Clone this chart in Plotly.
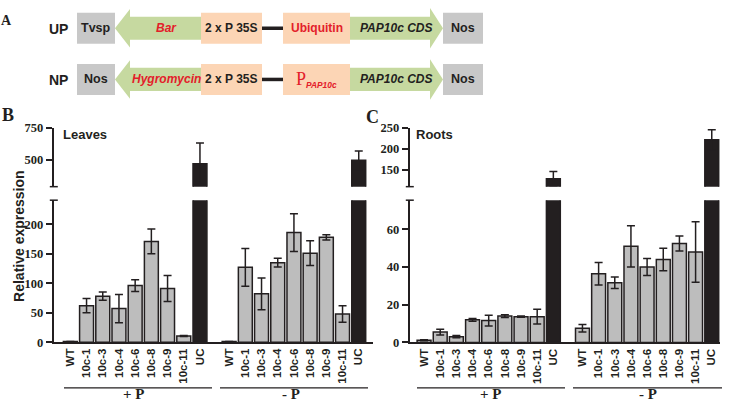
import plotly.graph_objects as go

# ---------------- data ----------------
lines = ["WT", "10c-1", "10c-3", "10c-4", "10c-6", "10c-8", "10c-9", "10c-11", "UC"]
conditions = ["+ P", "- P"]

leaves_plus = [1, 62, 78, 57, 96, 171, 91, 10.5, 472]
leaves_plus_err = [0.3, 12, 7, 24, 10, 21, 22, 1, 160]
leaves_minus = [1, 127, 82, 135, 186, 151, 178, 48, 498]
leaves_minus_err = [0.3, 32, 27, 7.5, 32, 21, 4.5, 14, 73]

roots_plus = [1.2, 5.5, 3.1, 12, 11.6, 14, 13.7, 13.7, 128]
roots_plus_err = [0.3, 1.5, 0.6, 0.7, 2.8, 0.7, 0.3, 3.9, 17]
roots_minus = [7.5, 36.5, 31.7, 51, 40, 44, 52.5, 48, 221]
roots_minus_err = [2, 6, 3, 11, 4.5, 6, 4, 16, 24]

leaves_ticks_low = [0, 50, 100, 150, 200]
leaves_ticks_high = [500, 750]
roots_ticks_low = [0, 20, 40, 60]
roots_ticks_high = [150, 200, 250]

# ---------------- style ----------------
W, H = 729, 411
INK = "#231f20"
BARGRAY = "#bdbdbd"
BOXGRAY = "#c8c8c8"
GREEN = "#c6d9a0"
PEACH = "#fcd5b5"
RED = "#e3202a"
SANS = "Liberation Sans"
SERIF = "Liberation Serif"


def X(p):
    return p / W


def Y(p):
    return 1 - p / H


GROUP_OFFSET = 9.8
pos = [i for i in range(len(lines))] + [i + GROUP_OFFSET for i in range(len(lines))]
names = lines + lines

fig = go.Figure()


def add_panel(xa, ylo, yhi, vp, ep, vm, em):
    vals = vp + vm
    errs = ep + em
    gray = [i for i, n in enumerate(names) if n != "UC"]
    uc = [i for i, n in enumerate(names) if n == "UC"]
    common = dict(width=0.86, xaxis=xa, showlegend=False, hoverinfo="skip")
    fig.add_trace(go.Bar(
        x=[pos[i] for i in gray], y=[vals[i] for i in gray], yaxis=ylo,
        marker=dict(color=BARGRAY, line=dict(color=INK, width=1.5)),
        error_y=dict(type="data", array=[errs[i] for i in gray], color=INK, thickness=1.5, width=4),
        **common))
    fig.add_trace(go.Bar(
        x=[pos[i] for i in uc], y=[vals[i] for i in uc], yaxis=ylo,
        marker=dict(color=INK, line=dict(color=INK, width=1.5)), **common))
    fig.add_trace(go.Bar(
        x=[pos[i] for i in uc], y=[vals[i] for i in uc], yaxis=yhi,
        marker=dict(color=INK, line=dict(color=INK, width=1.5)),
        error_y=dict(type="data", array=[errs[i] for i in uc], color=INK, thickness=1.5, width=4),
        **common))


add_panel("x", "y", "y2", leaves_plus, leaves_plus_err, leaves_minus, leaves_minus_err)
add_panel("x2", "y3", "y4", roots_plus, roots_plus_err, roots_minus, roots_minus_err)

xcommon = dict(showline=True, linecolor=INK, linewidth=1.5, ticks="", showgrid=False,
               zeroline=False, tickmode="array", tickvals=pos, ticktext=names, tickangle=-90,
               tickfont=dict(family=SANS, size=11.5, color=INK, weight="bold"))
ycommon = dict(showline=True, linecolor=INK, linewidth=1.5, ticks="outside", ticklen=6,
               tickwidth=1.5, tickcolor=INK, showgrid=False, zeroline=False, tickmode="array",
               tickfont=dict(family=SERIF, size=12.5, color=INK, weight="bold"))

fig.update_layout(
    width=W, height=H, margin=dict(l=0, r=0, t=0, b=0),
    paper_bgcolor="white", plot_bgcolor="rgba(0,0,0,0)", barmode="overlay",
    xaxis=dict(domain=[X(53.5), X(373)], range=[-1.04, 18.68], anchor="y", **xcommon),
    yaxis=dict(domain=[Y(347), Y(200)], range=[0, 241], anchor="x", tickvals=leaves_ticks_low, **ycommon),
    yaxis2=dict(domain=[Y(186), Y(125)], range=[295, 750], anchor="x", tickvals=leaves_ticks_high, **ycommon),
    xaxis2=dict(domain=[X(409.5), X(720)], range=[-0.9, 18.31], anchor="y3", **xcommon),
    yaxis3=dict(domain=[Y(347.3), Y(200)], range=[0, 75.5], anchor="x2", tickvals=roots_ticks_low, **ycommon),
    yaxis4=dict(domain=[Y(186), Y(125)], range=[109, 250], anchor="x2", tickvals=roots_ticks_high, **ycommon),
)

shapes = []
annots = []


def line(x0, y0, x1, y1, w=1.5, color=INK):
    shapes.append(dict(type="line", xref="paper", yref="paper", x0=X(x0), y0=Y(y0),
                       x1=X(x1), y1=Y(y1), line=dict(color=color, width=w)))


def rect(x0, y0, x1, y1, color):
    shapes.append(dict(type="rect", xref="paper", yref="paper", x0=X(x0), y0=Y(y0),
                       x1=X(x1), y1=Y(y1), fillcolor=color, line=dict(width=0), layer="below"))


def poly(pts, color):
    d = "M " + " L ".join(f"{X(a):.5f},{Y(b):.5f}" for a, b in pts) + " Z"
    shapes.append(dict(type="path", xref="paper", yref="paper", path=d, fillcolor=color,
                       line=dict(width=0), layer="below"))


def text(x, y, s, size=13, color=INK, family=SANS, bold=True, italic=False, angle=0,
         yanchor="middle"):
    annots.append(dict(xref="paper", yref="paper", x=X(x), y=Y(y), text=s, showarrow=False,
                       xanchor="center", yanchor=yanchor, textangle=angle,
                       font=dict(family=family, size=size, color=color,
                                 weight="bold" if bold else "normal",
                                 style="italic" if italic else "normal")))


# ---------- panel A: constructs ----------
rows = [
    dict(cy=22, tag="UP", left="Tvsp", sel="Bar",
         prom="Ubiquitin"),
    dict(cy=75, tag="NP", left="Nos", sel="Hygromycin",
         prom="<span style='font-family:Liberation Serif;font-size:18px;font-weight:normal'>P</span>"
              "<sub><i>PAP10c</i></sub>"),
]
for r in rows:
    cy = r["cy"]
    # left-pointing selection-marker arrow
    poly([(115, cy), (130, cy - 20), (130, cy - 12), (202, cy - 12), (202, cy + 12),
          (130, cy + 12), (130, cy + 20)], GREEN)
    # right-pointing CDS arrow
    poly([(349, cy - 12), (430, cy - 12), (430, cy - 21), (443, cy), (430, cy + 21),
          (430, cy + 12), (349, cy + 12)], GREEN)
    rect(77, cy - 16, 115, cy + 16, BOXGRAY)
    rect(443, cy - 16, 483, cy + 16, BOXGRAY)
    rect(201, cy - 16, 262, cy + 16, PEACH)
    rect(283, cy - 16, 350, cy + 16, PEACH)
    line(262, cy, 283, cy, w=3.5)
    text(58.5, cy + 1, r["tag"], size=14)
    text(96, cy, r["left"], size=12.5)
    text(166, cy, r["sel"], size=12, color=RED, italic=True)
    text(231.5, cy, "2 x P 35S", size=12)
    text(316.5, cy, r["prom"], size=12, color=RED)
    text(396.5, cy, "PAP10c CDS", size=12, italic=True)
    text(463, cy, "Nos", size=12.5)

# panel letters
text(6, 14, "A", size=14, family=SERIF)
text(8, 111.5, "B", size=18, family=SERIF)
text(372.5, 114, "C", size=18, family=SERIF)

# ---------- panels B and C decorations ----------
text(85, 132, "Leaves", size=13)
text(434, 132, "Roots", size=13)
text(19, 237, "Relative expression", size=14, angle=-90)

for ax_x in (53.8, 409.8):
    line(ax_x - 4, 186, ax_x + 4, 186)
    line(ax_x - 4, 200, ax_x + 4, 200)

group_lines = [(64, 212, 133), (220, 368, 291), (417, 565, 490), (573, 722, 648)]
for k, (a, b, c) in enumerate(group_lines):
    line(a, 394.3, b, 394.3, w=1.2)
    text(c, 411, conditions[k % 2], size=15, family=SERIF, yanchor="bottom")

fig.update_layout(shapes=shapes, annotations=annots)
fig.write_html("out.html", config={"displayModeBar": False},
               post_script="document.body.style.margin='0px';")
